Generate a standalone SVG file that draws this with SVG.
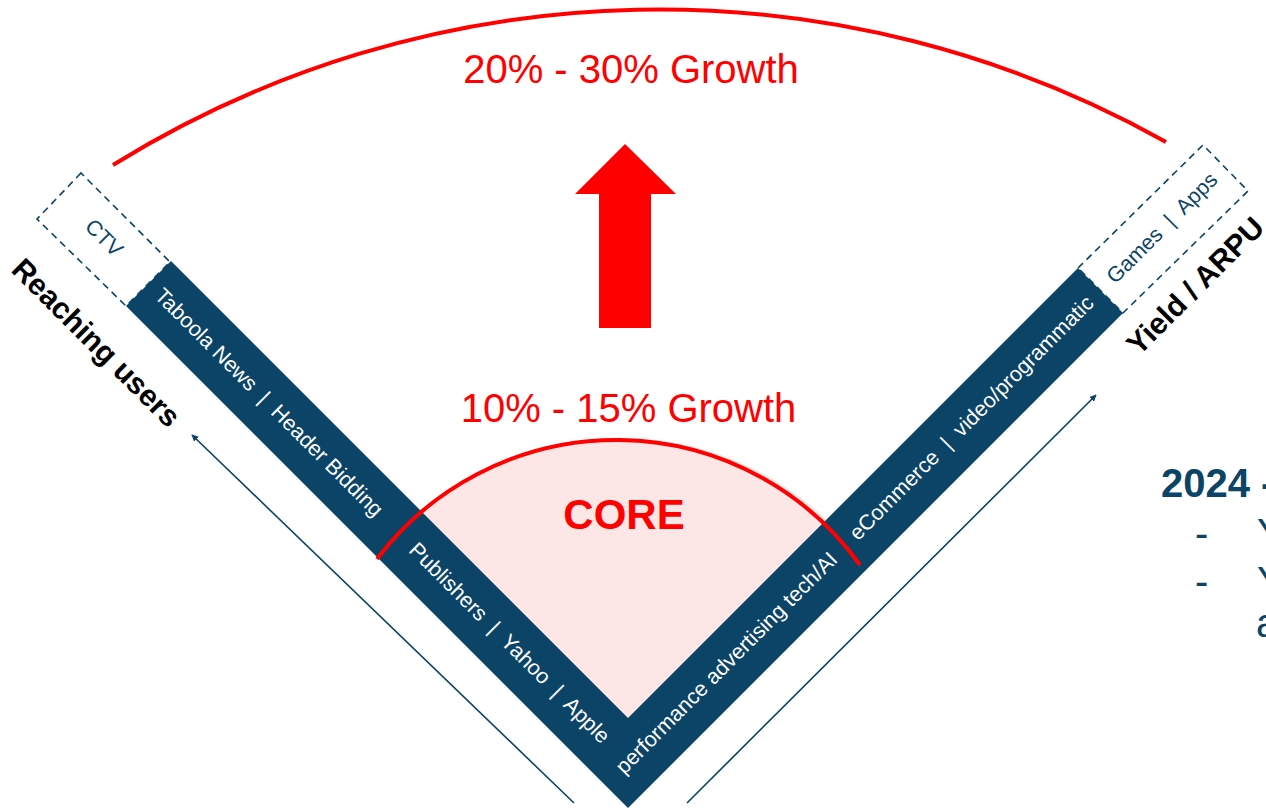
<svg xmlns="http://www.w3.org/2000/svg" width="1266" height="810" viewBox="0 0 1266 810">
  <style>
    text { font-family: "Liberation Sans", Arial, sans-serif; }
    .growth { fill: #ff0000; font-size: 40px; text-anchor: middle; }
    .core { fill: #ff0000; font-size: 42px; font-weight: bold; text-anchor: middle; }
    .axis { fill: #000000; font-size: 30px; font-weight: bold; text-anchor: middle; }
    .bar { fill: #0b4466; }
    .bartext { fill: #ffffff; font-size: 21.5px; text-anchor: middle; }
    .boxtext { fill: #0b4466; font-size: 21.5px; text-anchor: middle; }
    .dashbox { fill: none; stroke: #0b4466; stroke-width: 1.6; stroke-dasharray: 7 5; }
    .redarc { fill: none; stroke: #ff0000; stroke-width: 4; }
    .thin { fill: none; stroke: #0b4466; stroke-width: 1.6; }
    .side { fill: #0b4466; font-size: 40px; }
  </style>
  <defs>
    <marker id="head" viewBox="0 0 10 10" refX="9" refY="5" markerWidth="7" markerHeight="7" orient="auto" markerUnits="userSpaceOnUse">
      <path d="M0,0 L10,5 L0,10 Z" fill="#0b4466"/>
    </marker>
  </defs>
  <rect width="1266" height="810" fill="#ffffff"/>

  <!-- outer growth band -->
  <g id="outer-growth">
    <path class="redarc" d="M113,165 A1036,1036 0 0,1 1166,142"/>
    <text class="growth" x="631" y="83">20% - 30% Growth</text>
    <polygon fill="#ff0000" points="625,144 676,194 651,194 651,328 599,328 599,194 575,194"/>
  </g>

  <!-- core sector -->
  <g id="core">
    <path fill="#fde6e6" d="M628,718 L423.6,513.6 A298,298 0 0,1 826.6,519.4 Z"/>
  </g>

  <!-- dashed extension boxes -->
  <g id="ctv-box">
    <polygon class="dashbox" points="81,173 37,219 126,306 170,262"/>
    <text class="boxtext" transform="translate(99,243) rotate(45)">CTV</text>
  </g>
  <g id="games-box">
    <polygon class="dashbox" points="1078,268 1203,145 1248,191 1123,313"/>
    <text class="boxtext" xml:space="preserve" transform="translate(1167,233) rotate(-45)">Games  |  Apps</text>
  </g>

  <!-- V-shaped band -->
  <g id="v-band">
    <polygon class="bar" points="126,306 628,808 1123,313 1078,268 628,718 171,261"/>
  </g>

  <g id="core-arc">
    <path class="redarc" d="M377,559 A300,300 0 0,1 860,565"/>
    <text class="growth" x="628.5" y="422">10% - 15% Growth</text>
    <text class="core" x="624" y="529">CORE</text>
  </g>

  <!-- band labels -->
  <g id="left-outer-label">
    <text class="bartext" xml:space="preserve" transform="translate(264,407.5) rotate(45)">Taboola News  |  Header Bidding</text>
  </g>
  <g id="left-core-label">
    <text class="bartext" xml:space="preserve" transform="translate(504.5,648) rotate(45)">Publishers  |  Yahoo  |  Apple</text>
  </g>
  <g id="right-core-label">
    <text class="bartext" transform="translate(731.5,668) rotate(-45)">performance advertising tech/AI</text>
  </g>
  <g id="right-outer-label">
    <text class="bartext" xml:space="preserve" transform="translate(976.5,423) rotate(-45)">eCommerce  |  video/programmatic</text>
  </g>

  <!-- axis labels -->
  <g id="reaching-users">
    <text class="axis" transform="translate(89,350) rotate(45)">Reaching users</text>
  </g>
  <g id="yield-arpu">
    <text class="axis" transform="translate(1202.5,293) rotate(-45)">Yield / ARPU</text>
  </g>

  <!-- direction arrows -->
  <g id="connectors">
    <line class="thin" x1="574" y1="803" x2="192" y2="435" marker-end="url(#head)"/>
    <line class="thin" x1="687" y1="803" x2="1096" y2="395" marker-end="url(#head)"/>
  </g>

  <!-- side notes -->
  <g id="side-notes">
    <text class="side" x="1161" y="497" font-weight="bold">2024 -</text>
    <text class="side" x="1195" y="547">-</text>
    <text class="side" x="1257" y="547">Y</text>
    <text class="side" x="1195" y="595">-</text>
    <text class="side" x="1257" y="595">Y</text>
    <text class="side" x="1256" y="637">a</text>
  </g>
</svg>
